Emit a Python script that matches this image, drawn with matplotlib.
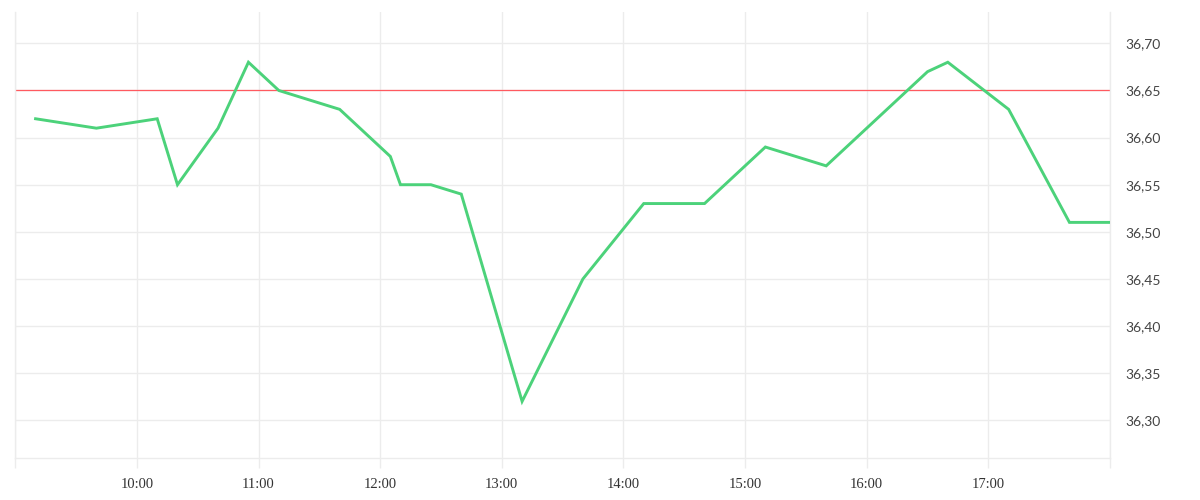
import matplotlib
matplotlib.use("Agg")
import matplotlib.pyplot as plt
from matplotlib.ticker import FixedLocator, FuncFormatter

times = ["09:10", "09:40", "10:10", "10:20", "10:40", "10:55", "11:10", "11:40",
         "12:05", "12:10", "12:25", "12:40", "13:10", "13:40", "14:10", "14:40",
         "15:10", "15:40", "16:30", "16:40", "17:10", "17:40", "18:00"]
values = [36.62, 36.61, 36.62, 36.55, 36.61, 36.68, 36.65, 36.63,
          36.58, 36.55, 36.55, 36.54, 36.32, 36.45, 36.53, 36.53,
          36.59, 36.57, 36.67, 36.68, 36.63, 36.51, 36.51]
reference_level = 36.65
x_tick_hours = [9, 10, 11, 12, 13, 14, 15, 16, 17, 18]
x_tick_labels = ["", "10:00", "11:00", "12:00", "13:00", "14:00", "15:00", "16:00", "17:00", ""]
y_ticks = [36.30, 36.35, 36.40, 36.45, 36.50, 36.55, 36.60, 36.65, 36.70]


def to_hours(t):
    h, m = t.split(":")
    return int(h) + int(m) / 60.0


x = [to_hours(t) for t in times]

grid_c = "#ececec"
fig = plt.figure(figsize=(12, 5), dpi=100)
ax = fig.add_axes([0.01275, 0.0834, 0.925 - 0.01275, 0.9754 - 0.0834])

ax.set_xlim(9, 18)
ax.set_ylim(36.2596, 36.733)

ax.axhline(reference_level, color="#ff5a5f", lw=0.9, zorder=2)
ax.plot(x, values, color="#4cd27a", lw=2.1, zorder=3, solid_joinstyle="miter")

ax.xaxis.set_major_locator(FixedLocator(x_tick_hours))
ax.set_xticklabels(x_tick_labels, fontfamily="Liberation Serif", fontsize=10.5, color="#333333")
ax.yaxis.set_major_locator(FixedLocator(y_ticks))
ax.yaxis.set_major_formatter(FuncFormatter(lambda v, p: f"{v:.2f}".replace(".", ",")))
ax.yaxis.tick_right()
for lab in ax.get_yticklabels():
    lab.set_fontfamily("Lato")
    lab.set_fontsize(10)
    lab.set_color("#444444")

ax.tick_params(axis="x", length=7, width=1, color=grid_c, pad=7)
ax.tick_params(axis="y", length=0, pad=11)

ax.grid(True, color=grid_c, lw=1)
ax.set_axisbelow(True)
for side in ["left", "right", "bottom"]:
    ax.spines[side].set_color(grid_c)
    ax.spines[side].set_linewidth(1)
ax.spines["top"].set_visible(False)

fig.savefig("out.png", dpi=100)
